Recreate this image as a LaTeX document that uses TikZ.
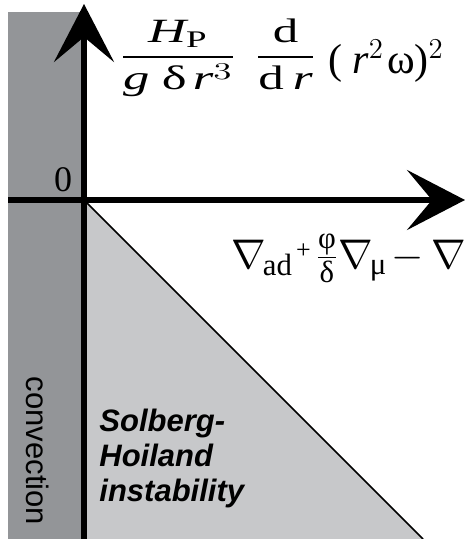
\documentclass[tikz,border=0pt]{standalone}
\usepackage{amsmath}
\usepackage{graphicx}
\usepackage{fontspec}
\setmainfont{Liberation Serif}
\setsansfont{Liberation Sans}
\usetikzlibrary{arrows.meta}
\definecolor{convgray}{RGB}{147,149,152}
\definecolor{shgray}{RGB}{199,200,202}
\newcommand\vi[1]{\text{\rmfamily\itshape #1}}
\newcommand\gr[1]{\text{\rmfamily\upshape #1}}
\newcommand\wide[2]{\scalebox{#1}[1]{#2}}

\begin{document}
\begin{tikzpicture}[
  axis/.style={line width=2.8pt,-{Stealth[length=29pt,width=30pt,inset=12.5pt]}},
  edge/.style={line width=0.8pt},
  lbl/.style={inner sep=0pt,font=\rmfamily\fontsize{17}{20}\selectfont},
  region/.style={inner sep=0pt,font=\sffamily\fontsize{15.5}{17.5}\selectfont},
  x=0.5pt,y=-0.5pt
]
  \useasboundingbox (0,0) rectangle (466,539);
  \coordinate (O) at (84,200);
  \coordinate (ybot) at (84,539);
  \coordinate (ytop) at (84,4);
  \coordinate (xleft) at (8,200);
  \coordinate (xtip) at (465,200);
  \coordinate (hyp) at (423,539);

  \fill[convgray] (8,12) rectangle (ybot);
  \fill[shgray] (O) -- (ybot) -- (hyp) -- cycle;
  \draw[edge] (O) -- (hyp);

  \draw[axis] (ybot) -- (ytop);
  \draw[axis] (xleft) -- (xtip);

  \node[lbl,font=\rmfamily\fontsize{18}{18}\selectfont,anchor=base] (zero) at (63,192) {0};
  \node[lbl,anchor=base west] (ylabel) at (119,65.5)
    {\wide{1.55}{$\dfrac{\vi{H}_{\gr{P}}}{\vi{g}\hspace{4pt}\gr{δ}\hspace{2pt}\vi{r}^{3}}$}\hspace{9pt}%
     \wide{1.5}{$\dfrac{\gr{d}}{\gr{d}\hspace{3pt}\vi{r}}$}\hspace{6pt}%
     \raisebox{-4pt}{\fontsize{21}{26}\selectfont(\hspace{5pt}\textit{r}$^{2}$\hspace{1.5pt}ω)$^{2}$}};
  \node[lbl,font=\rmfamily\fontsize{22}{24}\selectfont,anchor=base west] (xlabel) at (231,268)
    {$\nabla$\hspace{-1.5pt}$_{\gr{ad}}$\hspace{1.5pt}{\fontsize{13}{13}\selectfont\raisebox{5pt}{+}}\hspace{2.5pt}%
     $\frac{\gr{φ}}{\gr{δ}}$$\nabla$\hspace{-1.5pt}$_{\gr{μ}}$\hspace{2pt}$-$\hspace{4pt}$\nabla$};

  \node[region,rotate=-90] (conv) at (38,451) {convection};
  \node[region,font=\sffamily\bfseries\itshape\fontsize{15.5}{17.5}\selectfont,
    align=left,anchor=north west] (sh) at (99,409) {Solberg-\\Hoiland\\instability};
\end{tikzpicture}
\end{document}
